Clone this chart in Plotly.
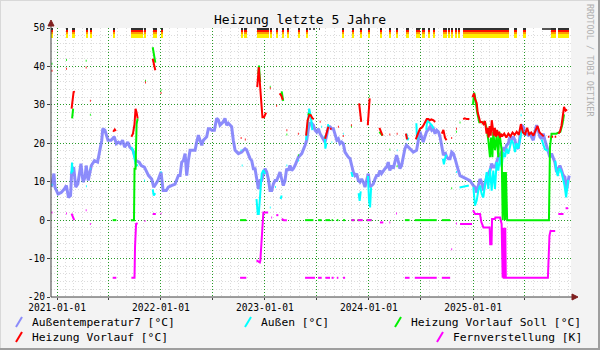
import plotly.graph_objects as go
import pandas as pd

# ---------------- data (decimal year, value); None = gap ----------------
aussen7_pts = [
    (2020.945, 8.6), (2020.97, 12.1), (2020.98, 8.6), (2021.01, 6.8), (2021.04, 7.2), (2021.07, 8.1),
    (2021.09, 9.0), (2021.11, 5.9), (2021.13, 6.4), (2021.14, 12.1), (2021.16, 13.8), (2021.18, 8.6),
    (2021.20, 9.4), (2021.23, 14.7), (2021.25, 9.9), (2021.27, 11.2), (2021.28, 14.2), (2021.30, 10.3),
    (2021.33, 14.2), (2021.36, 15.5), (2021.39, 15.1), (2021.41, 18.2), (2021.43, 20.8), (2021.44, 23.8),
    (2021.46, 23.4), (2021.49, 20.8), (2021.52, 20.8), (2021.55, 21.7), (2021.57, 19.9), (2021.59, 20.3),
    (2021.61, 19.9), (2021.63, 20.8), (2021.65, 19.0), (2021.68, 20.3), (2021.70, 19.0), (2021.73, 18.2),
    (2021.76, 15.5), (2021.79, 15.1), (2021.81, 14.2), (2021.84, 13.8), (2021.88, 11.6), (2021.91, 10.7),
    (2021.93, 8.6), (2021.95, 9.4), (2021.97, 10.3), (2022.00, 12.5), (2022.02, 7.7), (2022.05, 7.7),
    (2022.07, 8.6), (2022.10, 9.0), (2022.135, 9.4), (2022.167, 11.6), (2022.183, 11.6), (2022.199, 15.1),
    (2022.215, 15.5), (2022.231, 17.3), (2022.247, 11.6), (2022.263, 15.5), (2022.279, 18.2), (2022.311, 18.2),
    (2022.327, 18.2), (2022.343, 20.3), (2022.359, 22.1), (2022.375, 20.8), (2022.391, 19.5), (2022.407, 20.8),
    (2022.423, 21.2), (2022.439, 21.7), (2022.455, 23.8), (2022.471, 23.8), (2022.487, 23.4), (2022.513, 23.4),
    (2022.535, 26.5), (2022.551, 26.1), (2022.567, 24.7), (2022.583, 25.2), (2022.599, 25.6), (2022.615, 26.5),
    (2022.631, 24.7), (2022.647, 25.2), (2022.679, 24.3), (2022.695, 20.8), (2022.712, 18.2), (2022.744, 17.3),
    (2022.776, 17.7), (2022.792, 18.2), (2022.808, 18.6), (2022.824, 18.2), (2022.840, 16.9), (2022.856, 16.0),
    (2022.872, 15.5), (2022.888, 13.4), (2022.904, 13.4), (2022.920, 11.2), (2022.936, 8.1), (2022.952, 10.3),
    (2022.968, 10.3), (2022.984, 12.1), (2023.000, 13.4), (2023.016, 12.5), (2023.032, 10.7), (2023.048, 7.7),
    (2023.064, 7.7), (2023.080, 9.4), (2023.096, 10.3), (2023.112, 10.3), (2023.128, 11.6), (2023.144, 12.5),
    (2023.160, 10.7), (2023.176, 9.0), (2023.192, 10.3), (2023.208, 13.4), (2023.224, 12.9), (2023.240, 14.2),
    (2023.256, 12.9), (2023.272, 13.4), (2023.288, 14.2), (2023.321, 16.4), (2023.353, 17.3), (2023.369, 18.2),
    (2023.385, 19.5), (2023.401, 20.8), (2023.417, 23.8), (2023.433, 25.2), (2023.449, 25.2), (2023.465, 24.7),
    (2023.481, 23.4), (2023.497, 22.9), (2023.513, 23.8), (2023.529, 22.5), (2023.545, 21.7), (2023.561, 20.8),
    (2023.577, 20.3), (2023.593, 22.1), (2023.609, 24.3), (2023.625, 24.3), (2023.641, 23.8), (2023.657, 23.8),
    (2023.673, 22.1), (2023.690, 20.8), (2023.705, 21.2), (2023.721, 19.9), (2023.737, 20.3), (2023.753, 19.9),
    (2023.769, 17.7), (2023.785, 16.9), (2023.800, 16.4), (2023.817, 16.0), (2023.833, 13.8), (2023.849, 12.5),
    (2023.865, 11.6), (2023.881, 12.1), (2023.897, 10.3), (2023.913, 9.9), (2023.929, 10.7), (2023.945, 9.9),
    (2023.961, 8.6), (2023.977, 10.7), (2023.993, 12.1), (2024.009, 8.6), (2024.025, 9.0), (2024.041, 9.4),
    (2024.057, 10.7), (2024.073, 11.6), (2024.089, 11.6), (2024.105, 12.9), (2024.120, 12.1), (2024.137, 12.9),
    (2024.153, 13.4), (2024.169, 13.8), (2024.185, 15.1), (2024.200, 12.9), (2024.217, 14.2), (2024.233, 13.4),
    (2024.249, 15.1), (2024.265, 16.9), (2024.280, 15.5), (2024.297, 13.4), (2024.313, 14.2), (2024.329, 16.9),
    (2024.345, 18.6), (2024.360, 19.5), (2024.393, 18.6), (2024.425, 17.7), (2024.457, 18.2), (2024.473, 20.3),
    (2024.489, 23.0), (2024.505, 21.7), (2024.521, 20.3), (2024.537, 21.7), (2024.553, 23.0), (2024.587, 24.3),
    (2024.603, 23.4), (2024.619, 23.8), (2024.635, 22.5), (2024.651, 23.4), (2024.667, 23.0), (2024.683, 21.7),
    (2024.699, 18.6), (2024.715, 16.9), (2024.731, 17.7), (2024.747, 16.4), (2024.763, 16.0), (2024.779, 16.0),
    (2024.795, 17.7), (2024.811, 17.3), (2024.827, 16.0), (2024.843, 14.2), (2024.859, 12.9), (2024.875, 11.6),
    (2024.907, 11.2), (2024.939, 10.7), (2024.971, 10.3), (2025.003, 9.0), (2025.019, 8.6), (2025.035, 7.2),
    (2025.051, 8.9), (2025.067, 10.7), (2025.083, 9.9), (2025.099, 7.7), (2025.115, 9.4), (2025.131, 11.2),
    (2025.147, 12.1), (2025.163, 12.9), (2025.179, 14.7), (2025.195, 13.8), (2025.211, 13.8), (2025.227, 15.1),
    (2025.243, 16.4), (2025.259, 16.9), (2025.275, 17.7), (2025.291, 18.6), (2025.307, 18.2), (2025.323, 19.5),
    (2025.339, 19.9), (2025.355, 21.7), (2025.371, 20.8), (2025.387, 21.7), (2025.403, 20.8), (2025.419, 19.0),
    (2025.435, 18.6), (2025.451, 21.7), (2025.467, 24.7), (2025.483, 24.3), (2025.499, 22.5), (2025.515, 22.5),
    (2025.531, 22.1), (2025.547, 22.5), (2025.563, 21.7), (2025.579, 20.8), (2025.595, 22.9), (2025.611, 24.7),
    (2025.627, 23.4), (2025.643, 21.7), (2025.659, 21.2), (2025.675, 22.5), (2025.691, 20.8), (2025.707, 19.5),
    (2025.723, 18.2), (2025.739, 16.4), (2025.755, 17.3), (2025.771, 16.4), (2025.787, 15.1), (2025.803, 12.5),
    (2025.819, 13.4), (2025.835, 14.2), (2025.851, 13.0), (2025.867, 11.6), (2025.883, 11.2), (2025.899, 7.7),
    (2025.915, 10.3), (2025.925, 11.6),
]

aussen_pts = [
    (2020.946, 9.2), (2020.956, 9.2), None,
    (2021.138, 12.1), (2021.144, 15.0), (2021.15, 12.5), None,
    (2021.278, 8.8), (2021.286, 8.8), None,
    (2021.316, 13.4), (2021.324, 13.4), None,
    (2021.715, 19.0), (2021.73, 18.2), (2021.745, 16.0), (2021.76, 14.0), (2021.775, 14.5), None,
    (2021.838, 10.3), (2021.846, 10.3), None,
    (2021.92, 8.0), (2021.93, 6.4), (2021.945, 7.0), None,
    (2021.996, 12.5), (2022.004, 12.5), None,
    (2022.766, 18.2), (2022.774, 18.2), None,
    (2022.776, 14.2), (2022.784, 14.2), None,
    (2022.918, 5.5), (2022.93, 1.6), (2022.94, 1.6), (2022.955, 7.7), (2022.968, 12.1), (2022.984, 13.0), (2023.0, 12.0), None,
    (2023.046, 3.3), (2023.054, 3.3), None,
    (2023.096, 8.6), (2023.104, 8.6), None,
    (2023.15, 5.5), (2023.16, 6.4), None,
    (2023.206, 14.2), (2023.214, 14.2), None,
    (2023.316, 15.5), (2023.324, 15.5), None,
    (2023.395, 20.8), (2023.41, 25.0), (2023.425, 29.0), (2023.44, 27.0), (2023.455, 23.4), None,
    (2023.541, 24.3), (2023.549, 24.3), None,
    (2023.575, 22.0), (2023.58, 18.6), (2023.59, 20.0), None,
    (2023.605, 25.0), (2023.612, 24.0), None,
    (2023.64, 20.3), (2023.646, 20.3), None,
    (2023.75, 22.5), (2023.756, 22.5), None,
    (2023.83, 12.5), (2023.84, 11.5), (2023.85, 11.5), None,
    (2023.90, 7.0), (2023.91, 5.0), (2023.92, 7.5), None,
    (2023.99, 11.5), (2024.0, 5.0), (2024.01, 3.3), (2024.02, 8.5), None,
    (2024.268, 18.2), (2024.274, 18.2), None,
    (2024.36, 22.5), (2024.37, 20.8), (2024.38, 21.5), None,
    (2024.455, 25.2), (2024.46, 22.0), (2024.47, 21.0), None,
    (2024.55, 23.5), (2024.56, 26.0), (2024.575, 25.5), (2024.59, 25.2), (2024.605, 24.7), (2024.62, 23.8), None,
    (2024.71, 16.0), (2024.72, 14.5), (2024.735, 16.5), (2024.745, 17.0), None,
    (2024.838, 12.5), (2024.846, 12.5), None,
    (2024.87, 8.5), (2024.90, 8.6), (2024.93, 8.8), (2024.96, 9.0), None,
    (2025.003, 8.6), (2025.019, 3.8), (2025.035, 5.1), (2025.051, 7.7), (2025.067, 9.0), (2025.083, 6.8),
    (2025.099, 5.9), (2025.115, 8.6), (2025.131, 12.5), (2025.147, 8.1), (2025.163, 13.4), (2025.179, 7.7),
    (2025.195, 12.9), (2025.211, 8.1), (2025.227, 15.1), (2025.243, 12.9), (2025.259, 16.4), (2025.275, 13.8),
    (2025.291, 17.7), (2025.307, 16.4), (2025.323, 18.6), (2025.339, 17.3), (2025.355, 19.0), (2025.371, 20.8),
    (2025.387, 20.0), (2025.403, 17.7), (2025.419, 20.0), (2025.435, 18.6), (2025.451, 20.8), (2025.467, 23.4),
    (2025.483, 22.9), (2025.499, 22.0), None,
    (2025.458, 27.3), (2025.466, 27.3), None,
    (2025.66, 21.0), (2025.675, 19.5), (2025.69, 18.5), (2025.705, 18.2), (2025.72, 18.0), None,
    (2025.738, 17.0), (2025.746, 17.0), None,
    (2025.79, 15.5), (2025.80, 13.0), (2025.815, 11.5), (2025.83, 13.5), (2025.85, 12.5), (2025.865, 11.0),
    (2025.88, 9.0), (2025.895, 5.9), (2025.905, 8.0), (2025.915, 10.5),
]

soll_pts = [
    (2020.946, 40.7), (2020.956, 40.7), None,
    (2021.086, 41.7), (2021.094, 41.7), None,
    (2021.145, 26.5), (2021.155, 29.0), None,
    (2021.276, 41.5), (2021.284, 41.5), None,
    (2021.316, 27.4), (2021.324, 27.4), None,
    (2021.535, 0.0), (2021.57, 0.0), None,
    (2021.71, 0.0), (2021.74, 0.0), (2021.745, 13.4), (2021.755, 13.4), (2021.765, 25.0), (2021.775, 26.5), None,
    (2021.846, 36.3), (2021.854, 36.3), None,
    (2021.92, 45.0), (2021.935, 42.5), (2021.945, 41.0), None,
    (2021.996, 33.8), (2022.004, 33.8), None,
    (2022.76, 0.0), (2022.82, 0.0), None,
    (2022.935, 38.0), (2022.942, 40.2), (2022.952, 36.0), None,
    (2023.046, 34.7), (2023.054, 34.7), None,
    (2023.16, 33.5), (2023.175, 31.0), None,
    (2023.206, 22.3), (2023.214, 22.3), None,
    (2023.316, 16.9), (2023.324, 16.9), None,
    (2023.385, 0.0), (2023.465, 0.0), None,
    (2023.41, 27.7), (2023.44, 27.3), None,
    (2023.51, 0.0), (2023.545, 0.0), None,
    (2023.58, 0.0), (2023.625, 0.0), None,
    (2023.64, 0.0), (2023.655, 0.0), None,
    (2023.69, 0.0), (2023.705, 0.0), None,
    (2023.75, 0.0), (2023.77, 0.0), None,
    (2023.826, 24.3), (2023.834, 24.3), None,
    (2023.83, 0.0), (2023.86, 0.0), None,
    (2023.89, 0.0), (2023.93, 0.0), None,
    (2023.977, 0.0), (2024.025, 0.0), None,
    (2024.0, 32.3), (2024.006, 32.3), None,
    (2024.10, 23.0), (2024.13, 22.0), None,
    (2024.196, 18.4), (2024.204, 18.4), None,
    (2024.266, 14.0), (2024.274, 14.0), None,
    (2024.345, 0.0), (2024.39, 0.0), None,
    (2024.44, 0.0), (2024.651, 0.0), None,
    (2024.70, 0.0), (2024.78, 0.0), None,
    (2024.791, 8.3), (2024.799, 8.3), None,
    (2024.836, 23.0), (2024.844, 23.0), None,
    (2024.871, 25.4), (2024.879, 25.4), None,
    (2025.0, 30.0), (2025.01, 33.2), (2025.02, 32.0), (2025.04, 28.0), (2025.06, 25.5), (2025.09, 25.5),
    (2025.115, 25.5), (2025.131, 23.8), (2025.147, 20.8), (2025.163, 16.4), (2025.173, 21.5), (2025.186, 16.4),
    (2025.195, 23.0), (2025.211, 18.2), (2025.227, 22.0), (2025.243, 16.4), (2025.253, 23.0), (2025.275, 18.2),
    (2025.285, 0.0), (2025.297, 12.5), (2025.307, 0.0), (2025.316, 12.5), (2025.328, 0.0), (2025.72, 0.0),
    (2025.73, 0.0), (2025.74, 19.0), (2025.755, 22.5), (2025.80, 22.5), (2025.84, 23.0), (2025.86, 25.0),
    (2025.875, 27.5),
]

vorlauf_pts = [
    (2020.946, 38.9), (2020.956, 38.9), None,
    (2021.086, 39.4), (2021.094, 39.4), None,
    (2021.14, 29.0), (2021.15, 31.0), (2021.16, 33.5), (2021.168, 33.2), None,
    (2021.276, 39.7), (2021.284, 39.7), None,
    (2021.316, 31.1), (2021.324, 31.1), None,
    (2021.54, 23.0), (2021.555, 23.6), (2021.565, 23.2), None,
    (2021.715, 21.7), (2021.73, 22.5), (2021.745, 25.0), (2021.755, 29.0), (2021.765, 28.0), (2021.775, 26.5), None,
    (2021.846, 35.8), (2021.854, 35.8), None,
    (2021.92, 42.0), (2021.935, 40.0), (2021.945, 39.0), None,
    (2021.996, 33.1), (2022.004, 33.1), None,
    (2022.766, 21.4), (2022.774, 21.4), None,
    (2022.806, 21.0), (2022.814, 21.0), None,
    (2022.925, 34.6), (2022.94, 39.8), (2022.955, 34.0), (2022.975, 26.8), (2022.99, 26.8), (2023.01, 28.0), None,
    (2023.046, 34.3), (2023.054, 34.3), None,
    (2023.108, 29.8), (2023.116, 29.8), None,
    (2023.14, 33.0), (2023.155, 32.5), (2023.17, 31.3), None,
    (2023.206, 23.4), (2023.214, 23.4), None,
    (2023.316, 22.5), (2023.324, 22.5), None,
    (2023.395, 22.0), (2023.41, 26.0), (2023.425, 27.3), (2023.44, 27.3), (2023.455, 26.5), (2023.47, 26.3), None,
    (2023.526, 25.6), (2023.534, 25.6), None,
    (2023.577, 21.2), (2023.593, 23.0), (2023.609, 24.3), None,
    (2023.625, 23.8), (2023.64, 23.8), None,
    (2023.701, 24.3), (2023.709, 24.3), None,
    (2023.748, 21.9), (2023.756, 21.9), None,
    (2023.826, 24.7), (2023.834, 24.7), None,
    (2023.905, 30.4), (2023.915, 28.0), (2023.925, 25.6), None,
    (2023.988, 24.7), (2024.0, 28.5), (2024.006, 31.7), None,
    (2024.10, 24.0), (2024.115, 23.0), (2024.13, 22.0), None,
    (2024.196, 22.3), (2024.204, 22.3), None,
    (2024.266, 22.5), (2024.274, 22.5), None,
    (2024.355, 22.5), (2024.365, 21.0), None,
    (2024.45, 21.0), (2024.46, 22.0), (2024.47, 22.5), (2024.49, 23.8), (2024.505, 24.0), (2024.52, 24.5),
    (2024.54, 25.5), (2024.555, 26.3), (2024.57, 26.3), (2024.585, 26.0), (2024.60, 26.2), (2024.62, 26.0),
    (2024.635, 25.5), None,
    (2024.70, 22.5), (2024.715, 23.5), (2024.73, 21.5), (2024.745, 20.8), None,
    (2024.791, 21.4), (2024.799, 21.4), None,
    (2024.836, 23.8), (2024.844, 23.8), None,
    (2024.905, 26.3), (2024.92, 26.5), (2024.94, 26.3), (2024.965, 26.3), None,
    (2024.995, 32.0), (2025.01, 33.0), (2025.02, 31.5), (2025.035, 30.5), (2025.045, 28.0), (2025.055, 27.0),
    (2025.07, 25.5), (2025.085, 25.6), (2025.10, 25.0), (2025.115, 25.8), (2025.13, 22.5), (2025.14, 24.0),
    (2025.15, 21.5), (2025.16, 24.5), (2025.17, 22.0), (2025.18, 26.0), (2025.19, 23.0), (2025.20, 22.0),
    (2025.21, 24.0), (2025.22, 21.7), (2025.23, 23.5), (2025.24, 22.0), (2025.25, 23.0), (2025.26, 21.5),
    (2025.27, 22.5), (2025.28, 21.8), (2025.30, 22.5), (2025.32, 21.5), (2025.34, 22.5), (2025.36, 21.8),
    (2025.38, 22.8), (2025.40, 22.2), (2025.42, 23.0), (2025.44, 22.2), (2025.46, 25.0), (2025.48, 22.8),
    (2025.50, 22.3), (2025.52, 24.0), (2025.54, 22.3), (2025.56, 22.8), (2025.58, 22.0), (2025.60, 23.2),
    (2025.62, 24.5), (2025.64, 22.8), (2025.66, 22.3), (2025.68, 21.8), None,
    (2025.72, 21.7), (2025.735, 21.7), None,
    (2025.755, 21.7), (2025.77, 21.7), None,
    (2025.785, 21.7), (2025.80, 21.7), None,
    (2025.82, 22.5), (2025.835, 23.0), (2025.85, 24.5), (2025.865, 27.5), (2025.875, 29.5), (2025.89, 28.5),
    (2025.905, 28.8),
]

fern_pts = [
    (2020.946, 2.0), (2020.956, 2.0), None,
    (2021.086, 1.7), (2021.094, 1.7), None,
    (2021.14, 1.7), (2021.15, 0.8), (2021.165, 0.0), None,
    (2021.276, 2.6), (2021.284, 2.6), None,
    (2021.316, -1.0), (2021.324, -1.0), None,
    (2021.535, -15.0), (2021.57, -15.0), None,
    (2021.715, -15.0), (2021.745, -15.0), (2021.75, -7.0), (2021.76, -1.0), (2021.775, -0.8), None,
    (2021.841, -0.2), (2021.849, -0.2), None,
    (2021.92, 1.6), (2021.95, 1.6), None,
    (2021.996, 1.7), (2022.004, 1.7), None,
    (2022.76, -15.0), (2022.82, -15.0), None,
    (2022.918, -10.5), (2022.95, -11.0), (2022.955, -10.5), (2022.962, -7.2), (2022.974, -0.6), (2022.984, 2.0), (2023.03, 2.0), None,
    (2023.06, 0.7), (2023.068, 0.7), None,
    (2023.108, 1.3), (2023.128, 1.3), None,
    (2023.16, 0.3), (2023.18, 0.0), (2023.21, 0.0), None,
    (2023.385, -15.0), (2023.48, -15.0), None,
    (2023.51, -15.0), (2023.545, -15.0), None,
    (2023.58, -15.0), (2023.625, -15.0), None,
    (2023.64, -15.0), (2023.66, -15.0), None,
    (2023.69, -15.0), (2023.705, -15.0), None,
    (2023.75, -15.0), (2023.77, -15.0), None,
    (2023.83, 0.0), (2023.86, 0.0), None,
    (2023.89, 0.0), (2023.94, 0.0), None,
    (2023.977, 0.0), (2024.025, 0.0), None,
    (2024.105, -0.6), (2024.137, -0.6), None,
    (2024.196, -0.6), (2024.204, -0.6), None,
    (2024.261, 1.7), (2024.269, 1.7), None,
    (2024.345, -15.0), (2024.39, -15.0), None,
    (2024.44, -15.0), (2024.651, -15.0), None,
    (2024.70, -15.0), (2024.78, -15.0), None,
    (2024.791, -7.6), (2024.799, -7.6), None,
    (2024.836, -0.9), (2024.844, -0.9), None,
    (2024.875, -1.0), (2024.99, -1.0), None,
    (2025.0, 2.6), (2025.02, 1.6), (2025.067, 1.6), (2025.08, -0.5), (2025.10, -1.9), (2025.16, -1.9),
    (2025.165, -6.3), (2025.178, -6.3), (2025.183, 0.3), (2025.21, 0.3), (2025.215, 0.7), (2025.26, 0.7),
    (2025.275, -1.0), (2025.28, -15.0), (2025.285, -15.0), (2025.29, -2.0), (2025.295, -15.0), (2025.305, -15.0),
    (2025.31, -2.0), (2025.315, -15.0), (2025.72, -15.0), (2025.735, -4.0), (2025.745, -2.8), (2025.79, -2.8), None,
    (2025.82, 1.6), (2025.87, 1.6), None,
    (2025.89, 3.1), (2025.915, 3.1),
]

# burner-active periods shown as the coloured strip at the top (start, end)
strip_full = [
    (2020.945, 2020.965), (2021.09, 2021.105), (2021.14, 2021.175), (2021.28, 2021.295), (2021.32, 2021.335),
    (2021.535, 2021.56), (2021.71, 2021.83), (2021.84, 2021.86), (2021.92, 2021.96), (2022.0, 2022.02),
    (2022.77, 2022.79), (2022.80, 2022.83), (2022.925, 2023.04), (2023.05, 2023.07), (2023.11, 2023.125),
    (2023.16, 2023.18), (2023.21, 2023.23), (2023.32, 2023.335), (2023.40, 2023.41), (2023.745, 2023.76),
    (2023.84, 2023.86), (2023.915, 2023.935), (2023.99, 2024.01), (2024.11, 2024.125), (2024.20, 2024.215),
    (2024.26, 2024.28), (2024.36, 2024.38), (2024.45, 2024.49), (2024.51, 2024.54), (2024.57, 2024.59),
    (2024.62, 2024.63), (2024.71, 2024.75), (2024.765, 2024.78), (2024.795, 2024.81), (2024.83, 2024.845),
    (2024.86, 2024.875), (2024.905, 2025.35), (2025.39, 2025.42), (2025.48, 2025.51), (2025.745, 2025.80),
    (2025.82, 2025.92),
]
strip_dark = [(2023.43, 2023.435), (2023.47, 2023.475), (2023.52, 2023.525), (2025.66, 2025.745)]

y_ticks = [50, 40, 30, 20, 10, 0, -10, -20]
x_tick_dates = ["2021-01-01", "2021-07-01", "2022-01-01", "2022-07-01", "2023-01-01", "2023-07-01",
                "2024-01-01", "2024-07-01", "2025-01-01", "2025-07-01"]
x_tick_text = ["2021-01-01", "", "2022-01-01", "", "2023-01-01", "", "2024-01-01", "", "2025-01-01", ""]

# ---------------- helpers ----------------
BASE = pd.Timestamp("2021-01-01")
MS_PER_YEAR = 365.25 * 86400000


def ydate(y):
    return BASE + pd.Timedelta(days=(y - 2021) * 365.25)


def split(pts):
    xs, ys = [], []
    for p in pts:
        if p is None:
            xs.append(None)
            ys.append(None)
        else:
            xs.append(ydate(p[0]))
            ys.append(p[1])
    return xs, ys


FONT = "DejaVu Sans Mono"
C_BLUE = "rgba(120,120,250,0.85)"
C_CYAN = "#00FFFF"
C_GREEN = "#00F000"
C_RED = "#FF0000"
C_MAG = "#FF00FF"

fig = go.Figure()


def add_strip(intervals, layers):
    mids = [ydate((a + b) / 2) for a, b in intervals]
    widths = [(b - a) * MS_PER_YEAR for a, b in intervals]
    for base, h, col in layers:
        fig.add_trace(go.Bar(x=mids, y=[h] * len(mids), base=[base] * len(mids), width=widths,
                             marker=dict(color=col, line=dict(width=0)), showlegend=False,
                             hoverinfo="skip"))


add_strip(strip_full, [(47.4, 1.1, "#FFEE00"), (48.5, 0.5, "#FF9900"), (49.0, 0.7, "#FF1000"),
                       (49.7, 0.3, "#303030")])
add_strip(strip_dark, [(49.4, 0.6, "#555555")])

for pts, col, w in [(aussen7_pts, C_BLUE, 3), (aussen_pts, C_CYAN, 2), (soll_pts, C_GREEN, 2),
                    (vorlauf_pts, C_RED, 2), (fern_pts, C_MAG, 2)]:
    xs, ys = split(pts)
    fig.add_trace(go.Scatter(x=xs, y=ys, mode="lines", line=dict(color=col, width=w),
                             connectgaps=False, showlegend=False, hoverinfo="skip"))

# ---------------- layout ----------------
L, R, T, B = 51, 571, 28, 297


def px(x):
    return (x - L) / (R - L)


def py(y):
    return (B - y) / (B - T)


shapes = []
shapes.append(dict(type="line", xref="paper", yref="paper", x0=px(0), x1=px(600), y0=py(0.5), y1=py(0.5),
                   line=dict(color="#D8D8D8", width=1)))
shapes.append(dict(type="line", xref="paper", yref="paper", x0=px(0.5), x1=px(0.5), y0=py(0), y1=py(350),
                   line=dict(color="#D8D8D8", width=1)))
shapes.append(dict(type="line", xref="paper", yref="paper", x0=px(0), x1=px(600), y0=py(349), y1=py(349),
                   line=dict(color="#9E9E9E", width=2)))
shapes.append(dict(type="line", xref="paper", yref="paper", x0=px(599), x1=px(599), y0=py(0), y1=py(350),
                   line=dict(color="#9E9E9E", width=2)))
shapes.append(dict(type="line", xref="paper", yref="paper", x0=px(L), x1=px(L), y0=py(B), y1=py(22),
                   line=dict(color="#404040", width=1)))
shapes.append(dict(type="line", xref="paper", yref="paper", x0=px(L), x1=px(573), y0=py(B), y1=py(B),
                   line=dict(color="#404040", width=1)))
shapes.append(dict(type="path", xref="paper", yref="paper",
                   path=f"M {px(48)} {py(26)} L {px(54)} {py(26)} L {px(51)} {py(20)} Z",
                   fillcolor="#802020", line=dict(color="#802020", width=1)))
shapes.append(dict(type="path", xref="paper", yref="paper",
                   path=f"M {px(572)} {py(294)} L {px(572)} {py(300)} L {px(578)} {py(297)} Z",
                   fillcolor="#802020", line=dict(color="#802020", width=1)))

annotations = []
annotations.append(dict(text="Heizung letzte 5 Jahre", x=px(300), y=py(19), xref="paper", yref="paper",
                        showarrow=False, xanchor="center", yanchor="middle",
                        font=dict(family=FONT, size=13, color="#000000")))
annotations.append(dict(text="RRDTOOL / TOBI OETIKER", x=px(590), y=py(60), xref="paper", yref="paper",
                        showarrow=False, textangle=90, xanchor="center", yanchor="middle",
                        font=dict(family=FONT, size=8.5, color="#B0B0B0")))

legend_items = [
    ("Außentemperatur7 [°C]", C_BLUE, 16, 322),
    ("Außen [°C]", C_CYAN, 245, 322),
    ("Heizung Vorlauf Soll [°C]", C_GREEN, 395, 322),
    ("Heizung Vorlauf [°C]", C_RED, 16, 337),
    ("Fernverstellung [K]", C_MAG, 437, 337),
]
for text, col, x0, yc in legend_items:
    shapes.append(dict(type="line", xref="paper", yref="paper", x0=px(x0), x1=px(x0 + 6),
                       y0=py(yc + 5), y1=py(yc - 5), line=dict(color=col, width=2)))
    annotations.append(dict(text=text, x=px(x0 + 14), y=py(yc), xref="paper", yref="paper",
                            showarrow=False, xanchor="left", yanchor="middle",
                            font=dict(family=FONT, size=11.3, color="#000000")))

DOT = "1px,2px"
fig.update_layout(
    width=600, height=350, autosize=False,
    margin=dict(l=L, r=600 - R, t=T, b=350 - B, pad=0),
    paper_bgcolor="#F3F3F3", plot_bgcolor="#FFFFFF",
    barmode="overlay", bargap=0,
    showlegend=False,
    shapes=shapes, annotations=annotations,
    xaxis=dict(
        type="date",
        range=[ydate(2020.942), ydate(2025.942)],
        tickmode="array", tickvals=x_tick_dates, ticktext=x_tick_text,
        showgrid=True, gridcolor="rgba(30,150,30,0.95)", griddash=DOT, gridwidth=1,
        minor=dict(dtick="M1", tick0="2021-01-01", showgrid=True, gridcolor="#DCDCDC",
                   griddash=DOT, gridwidth=1),
        ticks="outside", ticklen=2, tickcolor="#404040", ticklabelstandoff=-1,
        showline=False, zeroline=False,
        tickfont=dict(family=FONT, size=9.6, color="#000000"),
        fixedrange=True,
    ),
    yaxis=dict(
        range=[-20, 50], tickmode="array", tickvals=y_ticks, ticktext=[str(v) for v in y_ticks],
        showgrid=True, gridcolor="rgba(30,150,30,0.95)", griddash=DOT, gridwidth=1,
        minor=dict(dtick=2, tick0=0, showgrid=True, gridcolor="#DCDCDC", griddash=DOT, gridwidth=1),
        ticks="outside", ticklen=3, tickcolor="#404040",
        showline=False, zeroline=False,
        tickfont=dict(family=FONT, size=9.6, color="#000000"),
        fixedrange=True,
    ),
)

fig.write_html("out.html")
